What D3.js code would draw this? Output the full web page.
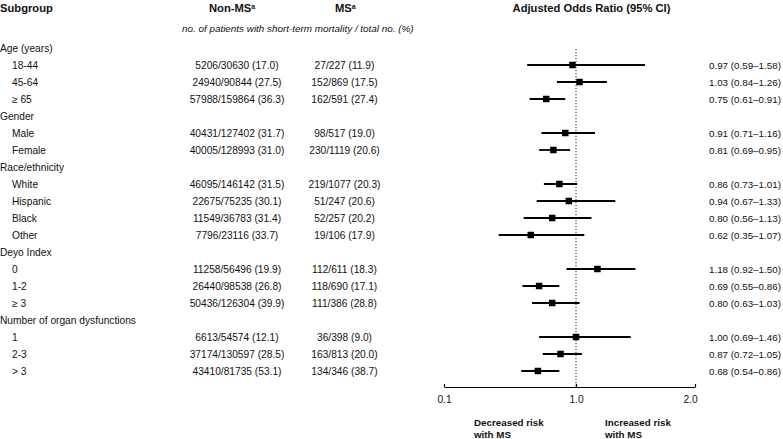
<!DOCTYPE html>
<html>
<head>
<meta charset="utf-8">
<script src="https://cdn.jsdelivr.net/npm/d3@7"></script>
<style>
  html, body { margin: 0; padding: 0; background: #fff; }
  svg { display: block; font-family: "Liberation Sans", Arial, sans-serif; }
</style>
</head>
<body>
<svg id="chart" width="783" height="439"></svg>
<script>
// ---- data ----
const groups = ["Age (years)", "Gender", "Race/ethnicity", "Deyo Index", "Number of organ dysfunctions"];
const subgroups = ["18-44", "45-64", "\u2265 65", "Male", "Female", "White", "Hispanic", "Black", "Other", "0", "1-2", "\u2265 3", "1", "2-3", "> 3"];
const subgroupGroup = [0, 0, 0, 1, 1, 2, 2, 2, 2, 3, 3, 3, 4, 4, 4];
const nonMSDeaths = [5206, 24940, 57988, 40431, 40005, 46095, 22675, 11549, 7796, 11258, 26440, 50436, 6613, 37174, 43410];
const nonMSTotal  = [30630, 90844, 159864, 127402, 128993, 146142, 75235, 36783, 23116, 56496, 98538, 126304, 54574, 130597, 81735];
const nonMSPct    = [17.0, 27.5, 36.3, 31.7, 31.0, 31.5, 30.1, 31.4, 33.7, 19.9, 26.8, 39.9, 12.1, 28.5, 53.1];
const msDeaths = [27, 152, 162, 98, 230, 219, 51, 52, 19, 112, 118, 111, 36, 163, 134];
const msTotal  = [227, 869, 591, 517, 1119, 1077, 247, 257, 106, 611, 690, 386, 398, 813, 346];
const msPct    = [11.9, 17.5, 27.4, 19.0, 20.6, 20.3, 20.6, 20.2, 17.9, 18.3, 17.1, 28.8, 9.0, 20.0, 38.7];
const oddsRatio = [0.97, 1.03, 0.75, 0.91, 0.81, 0.86, 0.94, 0.80, 0.62, 1.18, 0.69, 0.80, 1.00, 0.87, 0.68];
const ciLower   = [0.59, 0.84, 0.61, 0.71, 0.69, 0.73, 0.67, 0.56, 0.35, 0.92, 0.55, 0.63, 0.69, 0.72, 0.54];
const ciUpper   = [1.58, 1.26, 0.91, 1.16, 0.95, 1.01, 1.33, 1.13, 1.07, 1.50, 0.86, 1.03, 1.46, 1.05, 0.86];
const axisTicks = [0.1, 1.0, 2.0];

// ---- build rows ----
const rows = [];
groups.forEach((g, gi) => {
  rows.push({ id: "g" + gi, type: "group", label: g });
  subgroups.forEach((s, i) => {
    if (subgroupGroup[i] === gi) rows.push({ id: "s" + i, type: "sub", i: i, label: s });
  });
});

const svg = d3.select("#chart");
const y = d3.scalePoint().domain(rows.map(r => r.id)).range([48, 371]);
const x = d3.scaleLinear().domain([1, 2]).range([576, 695]);
const xAxisScale = d3.scaleLinear().domain([0.1, 1, 2]).range([444, 576, 695]);

const fs = 10.2;
const col = { label: 0, sub: 12, nonMS: 237, ms: 344.5, est: 709 };

// headers
const hdr = svg.append("g").attr("font-weight", "bold").attr("font-size", 11.2).attr("fill", "#111");
hdr.append("text").attr("x", 0).attr("y", 8).attr("dominant-baseline", "central").text("Subgroup");
const h1 = hdr.append("text").attr("x", 209).attr("y", 8).attr("dominant-baseline", "central");
h1.append("tspan").text("Non-MS");
h1.append("tspan").attr("font-size", 7).attr("dy", -2.5).text("a");
const h2 = hdr.append("text").attr("x", 335).attr("y", 8).attr("dominant-baseline", "central");
h2.append("tspan").text("MS");
h2.append("tspan").attr("font-size", 7).attr("dy", -2.5).text("a");
hdr.append("text").attr("x", 591.5).attr("y", 8).attr("text-anchor", "middle").attr("dominant-baseline", "central")
  .text("Adjusted Odds Ratio (95% CI)");

svg.append("text").attr("x", 182).attr("y", 28.5).attr("dominant-baseline", "central")
  .attr("font-style", "italic").attr("font-size", 9.9).attr("fill", "#111")
  .text("no. of patients with short-term mortality / total no. (%)");

// row labels and columns
const rg = svg.append("g").attr("font-size", fs).attr("fill", "#111");
rg.selectAll("text.lab").data(rows).join("text").attr("class", "lab")
  .attr("x", d => d.type === "group" ? col.label : col.sub)
  .attr("y", d => y(d.id)).attr("dominant-baseline", "central")
  .text(d => d.label);

const subs = rows.filter(r => r.type === "sub");
rg.selectAll("text.nm").data(subs).join("text").attr("class", "nm")
  .attr("x", col.nonMS).attr("y", d => y(d.id)).attr("text-anchor", "middle").attr("dominant-baseline", "central")
  .text(d => `${nonMSDeaths[d.i]}/${nonMSTotal[d.i]} (${nonMSPct[d.i].toFixed(1)})`);
rg.selectAll("text.ms").data(subs).join("text").attr("class", "ms")
  .attr("x", col.ms).attr("y", d => y(d.id)).attr("text-anchor", "middle").attr("dominant-baseline", "central")
  .text(d => `${msDeaths[d.i]}/${msTotal[d.i]} (${msPct[d.i].toFixed(1)})`);
rg.selectAll("text.est").data(subs).join("text").attr("class", "est")
  .attr("x", col.est).attr("y", d => y(d.id)).attr("dominant-baseline", "central")
  .attr("font-size", 9.8)
  .text(d => `${oddsRatio[d.i].toFixed(2)} (${ciLower[d.i].toFixed(2)}\u2013${ciUpper[d.i].toFixed(2)})`);

// reference line
const axisY = 387;
svg.append("line").attr("x1", x(1)).attr("x2", x(1)).attr("y1", 49).attr("y2", axisY)
  .attr("stroke", "#222").attr("stroke-width", 1).attr("stroke-dasharray", "1.2,1.8");

// CIs and squares
const fp = svg.append("g");
fp.selectAll("line.ci").data(subs).join("line").attr("class", "ci")
  .attr("x1", d => x(ciLower[d.i])).attr("x2", d => x(ciUpper[d.i]))
  .attr("y1", d => y(d.id)).attr("y2", d => y(d.id))
  .attr("stroke", "#000").attr("stroke-width", 1.8);
const sq = 6.5;
fp.selectAll("rect.pt").data(subs).join("rect").attr("class", "pt")
  .attr("x", d => x(oddsRatio[d.i]) - sq / 2).attr("y", d => y(d.id) - sq / 2)
  .attr("width", sq).attr("height", sq).attr("fill", "#000");

// axis
const ax = svg.append("g").attr("transform", `translate(0,${axisY})`)
  .call(d3.axisBottom(xAxisScale).tickValues(axisTicks).tickFormat(d3.format(".1f"))
    .tickSizeInner(-3).tickSizeOuter(0).tickPadding(9));
ax.select(".domain").attr("stroke", "#000").attr("stroke-width", 1.2);
ax.selectAll(".tick line").attr("stroke", "#000").attr("stroke-width", 1.2);
ax.selectAll(".tick text").attr("font-size", fs).attr("fill", "#111")
  .attr("font-family", "Liberation Sans, Arial, sans-serif");
ax.selectAll(".tick text").filter(d => d === 2).attr("dx", -5);

// direction labels
const dl = svg.append("g").attr("font-weight", "bold").attr("font-size", 9.8).attr("fill", "#111");
[["Decreased risk", "with MS", 474], ["Increased risk", "with MS", 605]].forEach(([a, b, px]) => {
  dl.append("text").attr("x", px).attr("y", 422).attr("dominant-baseline", "central").text(a);
  dl.append("text").attr("x", px).attr("y", 434.5).attr("dominant-baseline", "central").text(b);
});
</script>
</body>
</html>
